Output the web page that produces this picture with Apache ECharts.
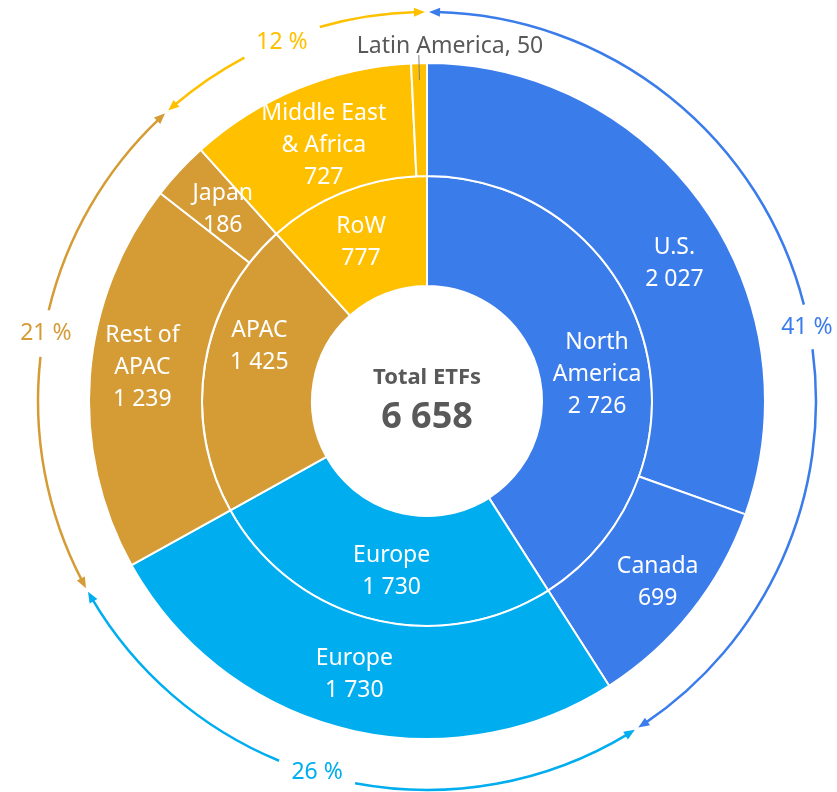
<!DOCTYPE html>
<html>
<head>
<meta charset="utf-8">
<title>Total ETFs by region</title>
<script src="https://cdn.jsdelivr.net/npm/echarts@6/dist/echarts.min.js"></script>
<style>
  html, body { margin: 0; padding: 0; background: #fff; }
  #chart { width: 837px; height: 792px; }
</style>
</head>
<body>
<div id="chart"></div>
<script>
// inner ring: regions
const regionNames = ['North\nAmerica', 'Europe', 'APAC', 'RoW'];
const regionValues = [2726, 1730, 1425, 777];
// outer ring: countries / sub-regions, in the same clockwise order
const subNames = ['U.S.', 'Canada', 'Europe', 'Rest of\nAPAC', 'Japan', 'Middle East\n& Africa', 'Latin America'];
const subValues = [2027, 699, 1730, 1239, 186, 727, 50];
const subRegion = [0, 0, 1, 2, 2, 3, 3];
const totalLabel = 'Total ETFs';

const colors = ['#3B7CEB', '#00ADEF', '#D59C36', '#FFC000'];
const FONT = '"Noto Sans", sans-serif';

// label nudges (layout only)
const innerOffsets = [[4, 22], [7, 3], [3, -26], [-4, 3]];
const outerOffsets = [[15, 26], [8, 4], [-3, -2], [-1, -12], [4, 2], [5, 8], [0, 0]];
// percentage labels on the outer arrow ring: angle (deg from top) and gap (deg)
const pctAngles = [79, 196.5, 280, 338];
const pctGaps = [6.7, 11.7, 7, 12];

const total = regionValues.reduce((a, b) => a + b, 0);
const fmt = v => String(v).replace(/\B(?=(\d{3})+(?!\d))/g, ' ');

const chart = echarts.init(document.getElementById('chart'));

const cx = 427, cy = 401;
const R_HOLE = 115, R_MID = 225, R_OUT = 338, R_ARROW = 389;

function pt(deg, r) {
    const a = deg * Math.PI / 180;
    return [cx + r * Math.sin(a), cy - r * Math.cos(a)];
}
function rad(deg) { return (deg - 90) * Math.PI / 180; }

// ---- arrow ring ----
const graphics = [];
let acc = 0;
regionValues.forEach((v, i) => {
    const a0 = acc / total * 360;
    acc += v;
    const a1 = acc / total * 360;
    const col = colors[i];
    const tip0 = a0 + 0.3, tip1 = a1 - 0.3;
    const headLen = 11 / R_ARROW * 180 / Math.PI;
    const arcs = [
        [tip0 + headLen * 0.7, pctAngles[i] - pctGaps[i] / 2],
        [pctAngles[i] + pctGaps[i] / 2, tip1 - headLen * 0.7]
    ];
    arcs.forEach(([s, e]) => {
        graphics.push({
            type: 'arc',
            silent: true,
            shape: { cx: cx, cy: cy, r: R_ARROW, startAngle: rad(s), endAngle: rad(e), clockwise: true },
            style: { stroke: col, lineWidth: 2.5, fill: null }
        });
    });
    // arrow heads at both ends
    [[tip0, tip0 + headLen], [tip1, tip1 - headLen]].forEach(([t, b]) => {
        graphics.push({
            type: 'polygon',
            silent: true,
            shape: { points: [pt(t, R_ARROW), pt(b, R_ARROW + 4.5), pt(b, R_ARROW - 4.5)] },
            style: { fill: col }
        });
    });
    const lp = pt(pctAngles[i], R_ARROW - 2);
    graphics.push({
        type: 'text',
        silent: true,
        x: lp[0], y: lp[1],
        style: {
            text: Math.round(v / total * 100) + ' %',
            fill: col, fontSize: 23, fontFamily: FONT,
            align: 'center', verticalAlign: 'middle'
        }
    });
});

// leader line for the thin Latin America slice
const latIdx = subNames.indexOf('Latin America');
const subTotal = subValues.reduce((a, b) => a + b, 0);
const latStart = subValues.slice(0, latIdx).reduce((a, b) => a + b, 0);
const latMid = (latStart + subValues[latIdx] / 2) / subTotal * 360;
const l0 = pt(latMid, R_OUT - 17), l1 = pt(latMid, R_OUT + 8);
graphics.push({
    type: 'line', silent: true, z: 10,
    shape: { x1: l0[0], y1: l0[1], x2: l1[0], y2: l1[1] },
    style: { stroke: '#7f7f7f', lineWidth: 1 }
});

// centre text
graphics.push({
    type: 'text', silent: true, x: cx, y: 378,
    style: { text: totalLabel, fill: '#595959', fontSize: 22, fontWeight: 'bold', fontFamily: FONT, align: 'center', verticalAlign: 'middle' }
});
graphics.push({
    type: 'text', silent: true, x: cx, y: 418,
    style: { text: fmt(total), fill: '#595959', fontSize: 36, fontWeight: 'bold', fontFamily: FONT, align: 'center', verticalAlign: 'middle' }
});

const innerData = regionNames.map((n, i) => ({
    name: n, value: regionValues[i], itemStyle: { color: colors[i] }
}));
const outerData = subNames.map((n, i) => {
    const d = { name: n, value: subValues[i], itemStyle: { color: colors[subRegion[i]] } };
    if (i === latIdx) {
        d.label = {
            position: 'outside', color: '#595959',
            formatter: p => p.name + ', ' + p.value
        };
    }
    return d;
});

const option = {
    animation: false,
    graphic: graphics,
    series: [
        {
            type: 'pie',
            center: [cx, cy],
            radius: [R_HOLE, R_MID],
            startAngle: 90,
            clockwise: true,
            avoidLabelOverlap: false,
            silent: true,
            itemStyle: { borderColor: '#fff', borderWidth: 2 },
            label: {
                position: 'inside', color: '#fff', fontSize: 23, fontFamily: FONT, lineHeight: 32,
                formatter: p => p.name + '\n' + fmt(p.value)
            },
            labelLine: { show: false },
            labelLayout: p => ({ dx: innerOffsets[p.dataIndex][0], dy: innerOffsets[p.dataIndex][1] }),
            data: innerData
        },
        {
            type: 'pie',
            center: [cx, cy],
            radius: [R_MID, R_OUT],
            startAngle: 90,
            clockwise: true,
            avoidLabelOverlap: false,
            silent: true,
            itemStyle: { borderColor: '#fff', borderWidth: 2 },
            label: {
                position: 'inside', color: '#fff', fontSize: 23, fontFamily: FONT, lineHeight: 32,
                formatter: p => p.name + '\n' + fmt(p.value)
            },
            labelLine: { show: false },
            labelLayout: p => {
                if (p.dataIndex === latIdx) {
                    return { x: 450, y: 46, align: 'center', verticalAlign: 'middle' };
                }
                return { dx: outerOffsets[p.dataIndex][0], dy: outerOffsets[p.dataIndex][1] };
            },
            data: outerData
        }
    ]
};

chart.setOption(option);
</script>
</body>
</html>
